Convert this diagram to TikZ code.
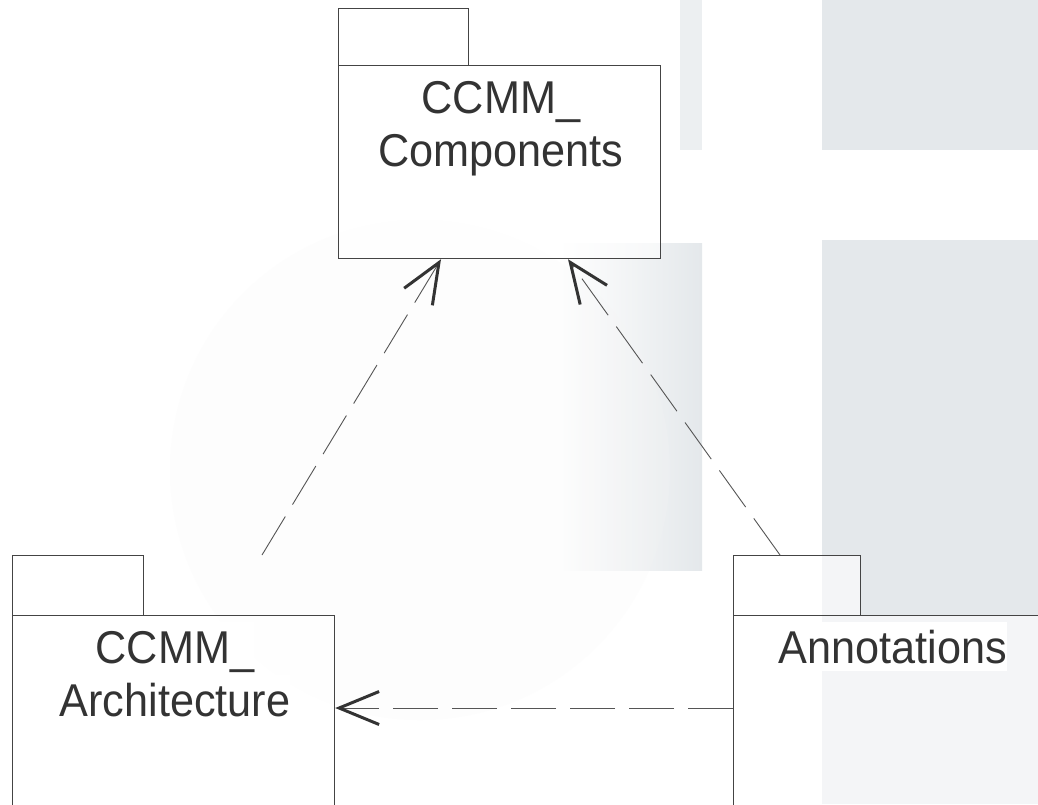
\documentclass[tikz,border=0pt]{standalone}
\usepackage{fontspec}
\newfontfamily\lblfont{Liberation Sans}[FakeStretch=0.94]
\usetikzlibrary{arrows.meta}
\definecolor{pkgline}{HTML}{444444}
\definecolor{depline}{HTML}{555555}
\definecolor{txt}{HTML}{333333}
\definecolor{wm}{HTML}{E4E8EB}
\tikzset{
  pkgpart/.style={draw=pkgline, line width=1.2pt, fill=white, fill opacity=0.6, text opacity=1, rectangle, inner sep=0pt, anchor=north west},
  lbl/.style={fill=white, inner sep=0pt, anchor=base, text=txt, font=\lblfont\fontsize{46}{50}\selectfont, text height=41pt, text depth=8pt},
  dep/.style={draw=depline, line width=0.9pt, dash pattern=on 45pt off 14pt,
    -{Straight Barb[length=40pt, width=33pt, line width=3pt, color=black!80]}},
}
\begin{document}
\begin{tikzpicture}[x=1pt,y=-1pt]
\clip (0,0) rectangle (1038,804);
\fill[white] (0,0) rectangle (1038,804);
% faint watermark background
\fill[wm] (822,0) rectangle (1038,150);
\fill[wm] (822,240) rectangle (1038,804);
\fill[wm!70] (680,0) rectangle (702,150);
\shade[left color=white, right color=wm] (560,243) rectangle (702,570);
\fill[white!96!black, opacity=0.2] (420,470) circle (250);
% packages
\node[pkgpart, minimum width=130pt, minimum height=57pt] (comptab) at (338,8) {};
\node[pkgpart, minimum width=322pt, minimum height=193pt] (comp) at (338,65) {};
\node[pkgpart, minimum width=131pt, minimum height=60pt] (archtab) at (12,555) {};
\node[pkgpart, minimum width=322pt, minimum height=250pt] (arch) at (12,615) {};
\node[pkgpart, minimum width=127pt, minimum height=60pt] (annottab) at (733,555) {};
\node[pkgpart, minimum width=330pt, minimum height=250pt] (annot) at (733,615) {};
% labels
\node[lbl] (c1) at (501,113) {CCMM\_};
\node[lbl] (c2) at (501,166) {Components};
\node[lbl] (a1) at (175,663) {CCMM\_};
\node[lbl] (a2) at (175,716) {Architecture};
\node[lbl] (n1) at (893,663) {Annotations};
% dependencies
\draw[dep] ([xshift=250pt]archtab.north west) -- ([xshift=103pt]comp.south west);
\draw[dep] ([xshift=47pt]annottab.north west) -- ([xshift=230pt]comp.south west);
\draw[dep] ([yshift=-93pt]annot.north west) -- ([yshift=-93pt]arch.north east);
\end{tikzpicture}
\end{document}
